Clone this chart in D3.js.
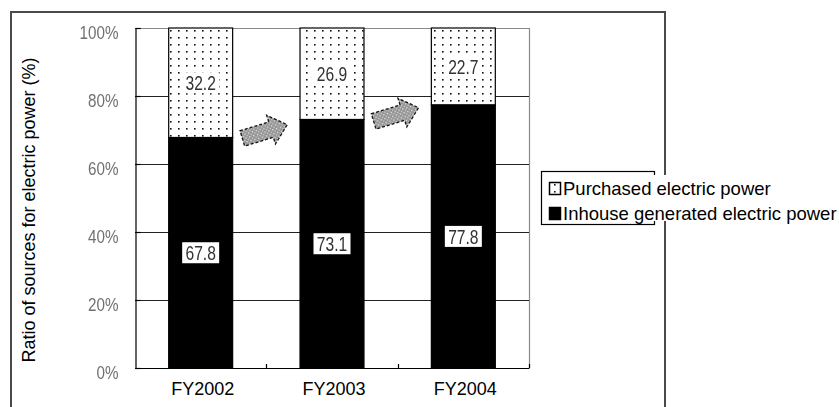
<!DOCTYPE html>
<html>
<head>
<meta charset="utf-8">
<script src="https://cdn.jsdelivr.net/npm/d3@7"></script>
<style>
  html, body { margin: 0; padding: 0; background: #fff; }
  svg { display: block; }
  .sans { font-family: "Liberation Sans", Arial, Helvetica, sans-serif; }
</style>
</head>
<body>
<svg id="chart" width="839" height="407"></svg>
<script>
// Fiscal years shown on the category axis
const categories = ["FY2002", "FY2003", "FY2004"];
// Share of each power source (%)
const inhouse = [67.8, 73.1, 77.8];
const purchased = [32.2, 26.9, 22.7];
const seriesNames = ["Inhouse generated electric power", "Purchased electric power"];
// Value-axis ticks
const yTicks = [0, 20, 40, 60, 80, 100];
const yTickLabels = ["0%", "20%", "40%", "60%", "80%", "100%"];
const yTitle = "Ratio of sources for electric power (%)";

const svg = d3.select("#chart");
const W = 839, H = 407;
const plot = { left: 135, top: 28, right: 529, bottom: 368 };

// Squeeze a text element horizontally to mimic a condensed face
function condense(sel, k) {
  sel.each(function () {
    const w = this.getComputedTextLength();
    d3.select(this).attr("textLength", w * k).attr("lengthAdjust", "spacingAndGlyphs");
  });
}

// Patterns and filters
const defs = svg.append("defs");
const dots = defs.append("pattern")
  .attr("id", "dots").attr("patternUnits", "userSpaceOnUse")
  .attr("width", 8).attr("height", 7);
dots.append("rect").attr("width", 8).attr("height", 7).attr("fill", "#fff");
dots.append("rect").attr("x", 2).attr("y", 2).attr("width", 1.6).attr("height", 1.6).attr("fill", "#111");

const grayDots = defs.append("pattern")
  .attr("id", "graydots").attr("patternUnits", "userSpaceOnUse")
  .attr("width", 4).attr("height", 4);
grayDots.append("rect").attr("width", 4).attr("height", 4).attr("fill", "#949494");
grayDots.append("rect").attr("x", 0).attr("y", 0).attr("width", 1.3).attr("height", 1.3).attr("fill", "#ececec");
grayDots.append("rect").attr("x", 2).attr("y", 2).attr("width", 1.3).attr("height", 1.3).attr("fill", "#d4d4d4");

const soft = defs.append("filter").attr("id", "soft")
  .attr("x", "-10%").attr("y", "-20%").attr("width", "120%").attr("height", "140%");
soft.append("feGaussianBlur").attr("stdDeviation", 0.45);

svg.append("rect").attr("width", W).attr("height", H).attr("fill", "#fff");

// Outer chart border (runs off the bottom edge)
svg.append("path")
  .attr("d", `M11,${H + 5} V12 H665 V${H + 5}`)
  .attr("fill", "none").attr("stroke", "#4a4a4a").attr("stroke-width", 2);

// Scales
const x = d3.scaleBand()
  .domain(categories)
  .range([plot.left, plot.right])
  .paddingInner(0.513)
  .paddingOuter(0.2565);
const y = d3.scaleLinear().domain([0, 1]).range([plot.bottom, plot.top]);

// 100% stacked data
const table = categories.map((c, i) => ({ cat: c, inhouse: inhouse[i], purchased: purchased[i] }));
const stack = d3.stack().keys(["inhouse", "purchased"]).offset(d3.stackOffsetExpand);
const layers = stack(table);

// Plot frame: light top/right edges
svg.append("path")
  .attr("d", `M${plot.left},${plot.top + 0.5} H${plot.right + 0.5} V${plot.bottom}`)
  .attr("fill", "none").attr("stroke", "#8a8a8a").attr("stroke-width", 1.2);

// Gridlines
svg.append("g")
  .selectAll("line")
  .data(yTicks.filter(t => t > 0 && t < 100))
  .join("line")
  .attr("x1", plot.left).attr("x2", plot.right)
  .attr("y1", d => Math.round(y(d / 100)) + 0.5)
  .attr("y2", d => Math.round(y(d / 100)) + 0.5)
  .attr("stroke", "#222").attr("stroke-width", 1.2);

// Bars
const fills = { inhouse: "#000", purchased: "url(#dots)" };
svg.append("g")
  .selectAll("g")
  .data(layers)
  .join("g")
  .attr("fill", d => fills[d.key])
  .selectAll("rect")
  .data(d => d)
  .join("rect")
  .attr("x", d => x(d.data.cat))
  .attr("width", x.bandwidth())
  .attr("y", d => y(d[1]))
  .attr("height", d => y(d[0]) - y(d[1]))
  .attr("stroke", "#000").attr("stroke-width", 1.2);

// Axes
const yAxis = d3.axisLeft(y)
  .tickValues(yTicks.map(t => t / 100))
  .tickSize(-5)
  .tickFormat((d, i) => yTickLabels[i])
  .tickPadding(17);
const gy = svg.append("g").attr("transform", `translate(${plot.left + 0.5},0)`).call(yAxis);
gy.select(".domain").attr("stroke", "#000").attr("stroke-width", 1.2);
gy.selectAll(".tick line").attr("stroke", "#000").attr("stroke-width", 1.2);
gy.selectAll(".tick text")
  .attr("class", "sans")
  .attr("font-size", 19)
  .attr("fill", "#707070")
  .attr("dy", "0.55em")
  .attr("filter", "url(#soft)")
  .call(condense, 0.8);

// Category axis: ticks between categories point inward
const bounds = d3.range(categories.length + 1).map(i => plot.left + i * x.step());
const gx = svg.append("g");
gx.append("line")
  .attr("x1", plot.left).attr("x2", plot.right + 0.5)
  .attr("y1", plot.bottom + 0.5).attr("y2", plot.bottom + 0.5)
  .attr("stroke", "#000").attr("stroke-width", 1.2);
gx.selectAll("line.tk")
  .data(bounds.slice(1))
  .join("line").attr("class", "tk")
  .attr("x1", d => Math.round(d) + 0.5).attr("x2", d => Math.round(d) + 0.5)
  .attr("y1", plot.bottom).attr("y2", plot.bottom - 4)
  .attr("stroke", "#000").attr("stroke-width", 1.2);
gx.selectAll("text")
  .data(categories)
  .join("text")
  .attr("class", "sans")
  .attr("x", d => x(d) + x.bandwidth() / 2 + 2)
  .attr("y", 394.5)
  .attr("text-anchor", "middle")
  .attr("font-size", 18)
  .attr("fill", "#000")
  .text(d => d);

// Axis title
svg.append("text")
  .attr("class", "sans")
  .attr("transform", "translate(35,210) rotate(-90)")
  .attr("text-anchor", "middle")
  .attr("font-size", 18)
  .attr("fill", "#000")
  .text(yTitle);

// Value labels centred in each segment
const labelG = svg.append("g");
layers.forEach(layer => {
  layer.forEach((d, i) => {
    const v = layer.key === "inhouse" ? inhouse[i] : purchased[i];
    const cx = x(d.data.cat) + x.bandwidth() / 2;
    const cy = y((d[0] + d[1]) / 2);
    const g = labelG.append("g").attr("transform", `translate(${cx},${cy})`);
    g.append("rect")
      .attr("x", -18.5).attr("y", -10.5).attr("width", 37).attr("height", 21)
      .attr("fill", "#fff");
    g.append("text")
      .attr("class", "sans")
      .attr("text-anchor", "middle")
      .attr("dy", "0.36em")
      .attr("font-size", 20)
      .attr("fill", "#333")
      .attr("filter", "url(#soft)")
      .text(d3.format(".1f")(v))
      .call(condense, 0.78);
  });
});

// Trend arrows between the bars
const arrowPath = "M-23,-8 H7 V-15 L24,0 L7,15 V8 H-23 Z";
const arrowAt = [
  { between: [0, 1], level: 0.695, angle: -17 },
  { between: [1, 2], level: 0.745, angle: -17 }
];
svg.append("g")
  .selectAll("path")
  .data(arrowAt)
  .join("path")
  .attr("transform", d => {
    const a = x(categories[d.between[0]]) + x.bandwidth();
    const b = x(categories[d.between[1]]);
    return `translate(${(a + b) / 2 - 2},${y(d.level)}) rotate(${d.angle})`;
  })
  .attr("d", arrowPath)
  .attr("fill", "url(#graydots)")
  .attr("stroke", "#111").attr("stroke-width", 1.3)
  .attr("stroke-dasharray", "3,2");

// Legend
const lg = svg.append("g");
lg.append("rect")
  .attr("x", 541.5).attr("y", 171.5).attr("width", 113).attr("height", 53)
  .attr("fill", "#fff").attr("stroke", "#000").attr("stroke-width", 1.2);
lg.append("rect")
  .attr("x", 562).attr("y", 175).attr("width", W - 562).attr("height", 46)
  .attr("fill", "#fff");
const legendItems = [
  { name: seriesNames[1], fill: "url(#dots)", y: 195 },
  { name: seriesNames[0], fill: "#000", y: 220 }
];
legendItems.forEach(it => {
  lg.append("rect")
    .attr("x", 549.5).attr("y", it.y - 12.5).attr("width", 11).attr("height", 12)
    .attr("fill", it.fill).attr("stroke", "#000").attr("stroke-width", 1.5);
  lg.append("text")
    .attr("class", "sans")
    .attr("x", 563).attr("y", it.y)
    .attr("font-size", 18.5)
    .attr("fill", "#000")
    .text(it.name);
});
</script>
</body>
</html>
